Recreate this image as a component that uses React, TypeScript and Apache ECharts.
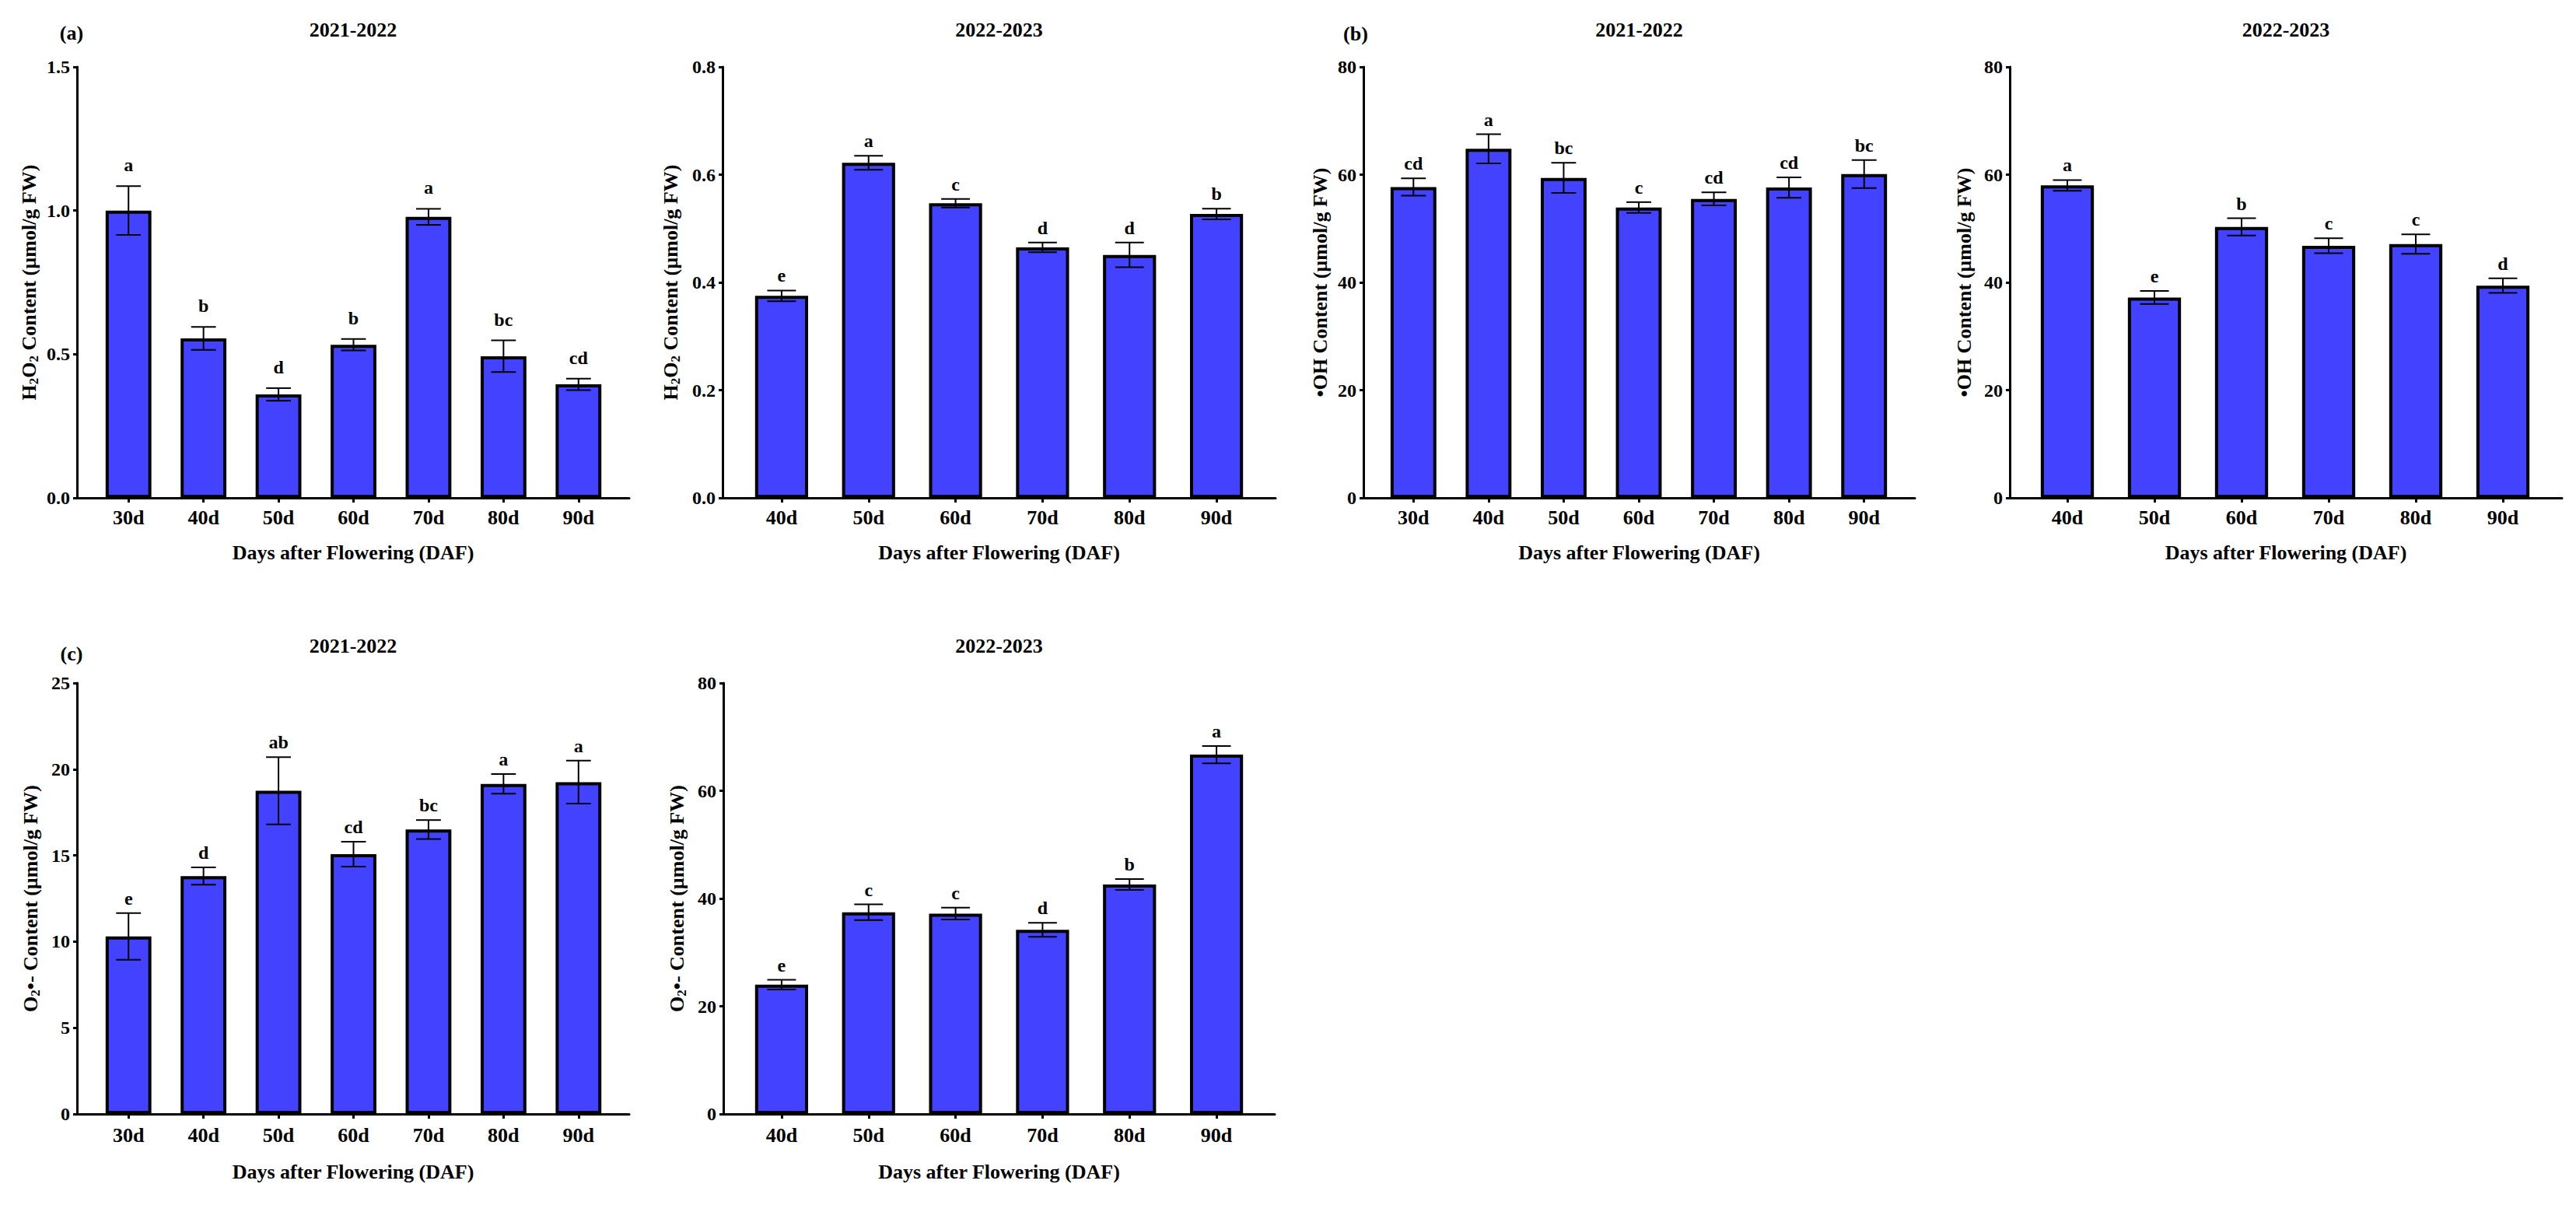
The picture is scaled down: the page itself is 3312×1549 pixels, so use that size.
import React, { useEffect, useRef } from 'react';
import * as echarts from 'echarts';

const FONT = '"Liberation Serif", "Times New Roman", serif';

// ---------------- data ----------------
const daysA = ['30d', '40d', '50d', '60d', '70d', '80d', '90d'];
const daysB = ['40d', '50d', '60d', '70d', '80d', '90d'];

const h2o2_2122 = [1.0, 0.555, 0.36, 0.533, 0.978, 0.493, 0.395];
const h2o2_2122_err = [0.085, 0.04, 0.022, 0.02, 0.028, 0.055, 0.02];
const h2o2_2122_sig = ['a', 'b', 'd', 'b', 'a', 'bc', 'cd'];

const h2o2_2223 = [0.375, 0.622, 0.547, 0.465, 0.451, 0.527];
const h2o2_2223_err = [0.01, 0.013, 0.008, 0.009, 0.023, 0.01];
const h2o2_2223_sig = ['e', 'a', 'c', 'd', 'd', 'b'];

const oh_2122 = [57.7, 64.8, 59.4, 53.9, 55.5, 57.6, 60.1];
const oh_2122_err = [1.6, 2.7, 2.8, 1.0, 1.2, 1.9, 2.6];
const oh_2122_sig = ['cd', 'a', 'bc', 'c', 'cd', 'cd', 'bc'];

const oh_2223 = [58.0, 37.2, 50.3, 46.8, 47.1, 39.4];
const oh_2223_err = [1.0, 1.2, 1.6, 1.4, 1.8, 1.35];
const oh_2223_sig = ['a', 'e', 'b', 'c', 'c', 'd'];

const o2_2122 = [10.3, 13.8, 18.75, 15.07, 16.5, 19.15, 19.25];
const o2_2122_err = [1.35, 0.5, 1.95, 0.72, 0.55, 0.57, 1.25];
const o2_2122_sig = ['e', 'd', 'ab', 'cd', 'bc', 'a', 'a'];

const o2_2223 = [24.0, 37.45, 37.2, 34.2, 42.6, 66.7];
const o2_2223_err = [0.9, 1.45, 1.1, 1.3, 1.0, 1.6];
const o2_2223_sig = ['e', 'c', 'c', 'd', 'b', 'a'];

const yTicksH2O2A = { min: 0, max: 1.5, interval: 0.5, digits: 1 };
const yTicksH2O2B = { min: 0, max: 0.8, interval: 0.2, digits: 1 };
const yTicksOH = { min: 0, max: 80, interval: 20, digits: 0 };
const yTicksO2A = { min: 0, max: 25, interval: 5, digits: 0 };
const yTicksO2B = { min: 0, max: 80, interval: 20, digits: 0 };

const nameH2O2 = 'H{s|2}O{s|2} Content (µmol/g FW)';
const nameOH = '•OH Content (µmol/g FW)';
const nameO2 = 'O{s|2}•- Content (µmol/g FW)';
const xName = 'Days after Flowering (DAF)';

// ---------------- layout ----------------
interface Panel {
  cats: string[]; vals: number[]; errs: number[]; sig: string[];
  ticks: { min: number; max: number; interval: number; digits: number };
  yName: string; year: string; tag?: string;
  axisX: number; bandL: number; bandR: number; lineEnd: number;
  top: number; bottom: number; nameGap: number; xNameGap: number;
  sigGap: number; tagX?: number; tagY?: number; titleY: number;
  xLabelMargin: number;
}

const panels: Panel[] = [
  { cats: daysA, vals: h2o2_2122, errs: h2o2_2122_err, sig: h2o2_2122_sig, ticks: yTicksH2O2A, yName: nameH2O2, year: '2021-2022', tag: '(a)',
    axisX: 99, bandL: 117, bandR: 792, lineEnd: 809, top: 86, bottom: 640, nameGap: 47, xNameGap: 57, sigGap: 15, tagX: 92, tagY: 42, titleY: 38, xLabelMargin: 12 },
  { cats: daysB, vals: h2o2_2223, errs: h2o2_2223_err, sig: h2o2_2223_sig, ticks: yTicksH2O2B, yName: nameH2O2, year: '2022-2023',
    axisX: 929, bandL: 949, bandR: 1620, lineEnd: 1640, top: 86, bottom: 640, nameGap: 52, xNameGap: 57, sigGap: 7, titleY: 38, xLabelMargin: 12 },
  { cats: daysA, vals: oh_2122, errs: oh_2122_err, sig: oh_2122_sig, ticks: yTicksOH, yName: nameOH, year: '2021-2022', tag: '(b)',
    axisX: 1753, bandL: 1769, bandR: 2445, lineEnd: 2462, top: 86, bottom: 640, nameGap: 41, xNameGap: 57, sigGap: 7, tagX: 1743, tagY: 43, titleY: 38, xLabelMargin: 12 },
  { cats: daysB, vals: oh_2223, errs: oh_2223_err, sig: oh_2223_sig, ticks: yTicksOH, yName: nameOH, year: '2022-2023',
    axisX: 2584, bandL: 2602, bandR: 3274, lineEnd: 3294, top: 86, bottom: 640, nameGap: 44, xNameGap: 57, sigGap: 7, titleY: 38, xLabelMargin: 12 },
  { cats: daysA, vals: o2_2122, errs: o2_2122_err, sig: o2_2122_sig, ticks: yTicksO2A, yName: nameO2, year: '2021-2022', tag: '(c)',
    axisX: 99, bandL: 117, bandR: 792, lineEnd: 809, top: 878, bottom: 1432, nameGap: 45, xNameGap: 61, sigGap: 7, tagX: 92, tagY: 840, titleY: 830, xLabelMargin: 14 },
  { cats: daysB, vals: o2_2223, errs: o2_2223_err, sig: o2_2223_sig, ticks: yTicksO2B, yName: nameO2, year: '2022-2023',
    axisX: 930, bandL: 949, bandR: 1620, lineEnd: 1639, top: 878, bottom: 1432, nameGap: 45, xNameGap: 61, sigGap: 7, titleY: 830, xLabelMargin: 14 },
];

const BAR_COLOR = '#4242FF';

function buildOption() {
  const grid: any[] = [];
  const xAxis: any[] = [];
  const yAxis: any[] = [];
  const series: any[] = [];
  const graphic: any[] = [];

  panels.forEach((p, i) => {
    const gBar = i * 2;
    const gAx = i * 2 + 1;
    const height = p.bottom - p.top;
    grid.push({ left: p.bandL, width: p.bandR - p.bandL, top: p.top, height, outerBoundsMode: 'none', containLabel: false });
    grid.push({ left: p.axisX, width: p.lineEnd - p.axisX, top: p.top, height, outerBoundsMode: 'none', containLabel: false });

    xAxis.push({
      type: 'category', gridIndex: gBar, data: p.cats, boundaryGap: true,
      axisLine: { show: false },
      axisTick: { show: true, alignWithLabel: true, length: 6, lineStyle: { color: '#000', width: 3 } },
      axisLabel: { show: true, interval: 0, margin: p.xLabelMargin, color: '#000', fontFamily: FONT, fontWeight: 'bold', fontSize: 26 },
      splitLine: { show: false },
    });
    xAxis.push({
      type: 'value', gridIndex: gAx, min: 0, max: 1,
      axisLine: { show: true, onZero: false, lineStyle: { color: '#000', width: 3 } },
      axisTick: { show: false }, axisLabel: { show: false }, splitLine: { show: false },
      name: xName, nameLocation: 'middle', nameGap: p.xNameGap, nameMoveOverlap: false,
      nameTextStyle: { color: '#000', fontFamily: FONT, fontWeight: 'bold', fontSize: 26 },
    });

    yAxis.push({
      type: 'value', gridIndex: gBar, min: p.ticks.min, max: p.ticks.max, interval: p.ticks.interval, show: false,
    });
    yAxis.push({
      type: 'value', gridIndex: gAx, min: p.ticks.min, max: p.ticks.max, interval: p.ticks.interval,
      axisLine: { show: true, onZero: false, lineStyle: { color: '#000', width: 3 } },
      axisTick: { show: true, length: 5, lineStyle: { color: '#000', width: 3 } },
      axisLabel: {
        show: true, margin: 9, color: '#000', fontFamily: FONT, fontWeight: 'bold', fontSize: 24,
        formatter: (v: number) => v.toFixed(p.ticks.digits),
      },
      splitLine: { show: false },
      name: p.yName, nameLocation: 'middle', nameRotate: 90, nameGap: p.nameGap, nameMoveOverlap: false,
      nameTextStyle: {
        color: '#000', fontFamily: FONT, fontWeight: 'bold', fontSize: 26, lineHeight: 30,
        rich: { s: { color: '#000', fontFamily: FONT, fontWeight: 'bold', fontSize: 17, lineHeight: 17, verticalAlign: 'bottom' } },
      },
    });

    series.push({
      type: 'bar', xAxisIndex: gBar, yAxisIndex: gBar, data: p.vals, barWidth: '61%',
      itemStyle: { color: BAR_COLOR, borderColor: '#000', borderWidth: 4 },
      z: 2,
    });

    const sig = p.sig;
    const gap = p.sigGap;
    series.push({
      type: 'custom', xAxisIndex: gBar, yAxisIndex: gBar, z: 5, clip: false,
      data: p.vals.map((v, k) => [k, v, p.errs[k]]),
      renderItem: (params: any, api: any) => {
        const idx = params.dataIndex;
        const x = api.value(0);
        const m = api.value(1);
        const e = api.value(2);
        const t = api.coord([x, m + e]);
        const b = api.coord([x, m - e]);
        const hw = api.size([1, 0])[0] * 0.165;
        const ls = { stroke: '#000', lineWidth: 2 };
        return {
          type: 'group',
          children: [
            { type: 'line', shape: { x1: t[0], y1: t[1], x2: b[0], y2: b[1] }, style: ls },
            { type: 'line', shape: { x1: t[0] - hw, y1: t[1], x2: t[0] + hw, y2: t[1] }, style: ls },
            { type: 'line', shape: { x1: b[0] - hw, y1: b[1], x2: b[0] + hw, y2: b[1] }, style: ls },
            {
              type: 'text', x: t[0], y: t[1] - gap,
              style: {
                text: sig[idx], fill: '#000', font: `bold 24px ${FONT}`,
                align: 'center', verticalAlign: 'bottom', textAlign: 'center', textVerticalAlign: 'bottom',
              },
            },
          ],
        };
      },
    });

    graphic.push({
      type: 'text', x: (p.axisX + p.lineEnd) / 2, y: p.titleY,
      style: { text: p.year, fill: '#000', font: `bold 26px ${FONT}`, align: 'center', verticalAlign: 'middle', textAlign: 'center', textVerticalAlign: 'middle' },
    });
    if (p.tag) {
      graphic.push({
        type: 'text', x: p.tagX, y: p.tagY,
        style: { text: p.tag, fill: '#000', font: `bold 26px ${FONT}`, align: 'center', verticalAlign: 'middle', textAlign: 'center', textVerticalAlign: 'middle' },
      });
    }
  });

  return {
    animation: false,
    backgroundColor: '#fff',
    grid, xAxis, yAxis, series, graphic,
  };
}

export default function App() {
  const ref = useRef<HTMLDivElement>(null);
  useEffect(() => {
    if (!ref.current) return;
    const chart = echarts.init(ref.current, null, { renderer: 'svg' });
    chart.setOption(buildOption() as any);
    return () => chart.dispose();
  }, []);
  return (
    <div
      ref={ref}
      style={{ position: 'fixed', left: 0, top: 0, width: 3312, height: 1549, background: '#fff' }}
    />
  );
}
